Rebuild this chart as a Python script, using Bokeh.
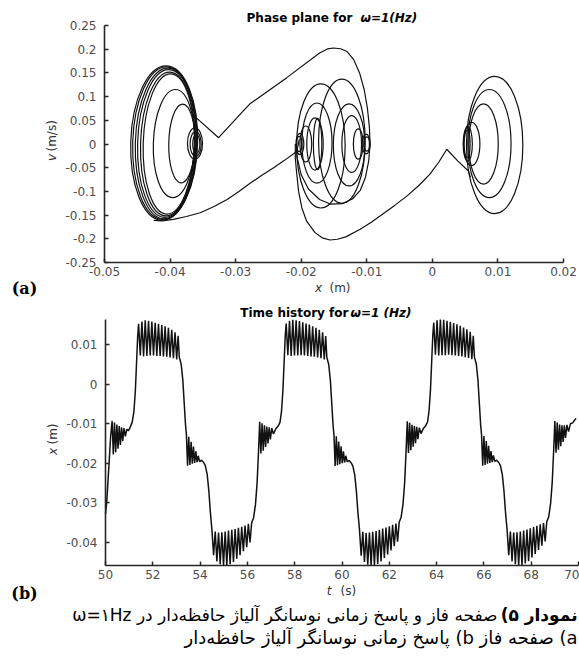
import numpy as np
from bokeh.plotting import figure
from bokeh.models import Range1d, FixedTicker, Label
from bokeh.layouts import column
from bokeh.embed import file_html
from bokeh.resources import INLINE

# ---------------- Phase plane data ----------------
# closed orbits (near-elliptic loops): centre x, centre v, width, height, tilt
ell_x = [-0.0409, -0.04085, -0.0406, -0.0405, -0.04035, -0.0402, -0.0394, -0.0382, -0.0362, -0.0361, -0.0360,
         -0.0138, -0.0170, -0.0176, -0.0179, -0.0175, -0.0193, -0.0202, -0.0203,
         -0.0127, -0.0123, -0.0113, -0.0101, -0.0100,
         0.0095, 0.0087, 0.0078, 0.0060, 0.0054, 0.0053]
ell_v = [0.002, 0.002, 0.001, 0.001, 0.0, 0.0, 0.001, 0.001, 0.001, 0.0, 0.0,
         0.006, -0.004, 0.002, 0.0, 0.0, 0.0, 0.0, 0.0,
         -0.002, 0.0, 0.0, 0.0, 0.0,
         -0.002, 0.001, 0.0, 0.0, 0.0, 0.0]
ell_w = [0.0102, 0.0097, 0.0094, 0.0089, 0.0083, 0.0078, 0.0063, 0.0040, 0.0023, 0.0017, 0.0011,
         0.0071, 0.0074, 0.0046, 0.0025, 0.0013, 0.0018, 0.0012, 0.0008,
         0.0048, 0.0030, 0.0015, 0.0012, 0.0008,
         0.0086, 0.0066, 0.0045, 0.0025, 0.0014, 0.0009]
ell_h = [0.326, 0.322, 0.318, 0.312, 0.304, 0.296, 0.228, 0.166, 0.066, 0.052, 0.040,
         0.262, 0.262, 0.169, 0.110, 0.108, 0.076, 0.045, 0.032,
         0.173, 0.120, 0.064, 0.042, 0.030,
         0.290, 0.228, 0.169, 0.091, 0.072, 0.058]
ell_a = [-0.03, -0.03, -0.03, -0.03, -0.03, -0.03, -0.03, -0.02, 0, 0, 0,
         0, 0, 0, 0, 0, 0, 0, 0,
         0, 0, 0, 0, 0,
         0, 0, 0, 0, 0, 0]

# open transition trajectories
tr1_x = [-0.0362, -0.0359, -0.0326, -0.0278, -0.0222, -0.0172, -0.0160, -0.0151, -0.0140, -0.0130, -0.0120,
         -0.0111, -0.0104, -0.0099, -0.0096, -0.0095, -0.0097, -0.0102, -0.0110, -0.0122, -0.0138, -0.0155,
         -0.0172, -0.0189, -0.0200, -0.0206, -0.0208]
tr1_v = [0.045, 0.054, 0.0133, 0.085, 0.140, 0.192, 0.2005, 0.2025, 0.2010, 0.195, 0.178,
         0.150, 0.115, 0.075, 0.035, 0.0, -0.035, -0.070, -0.098, -0.116, -0.126, -0.127,
         -0.117, -0.095, -0.065, -0.030, 0.0]
tr2_x = [-0.0425, -0.0412, -0.0395, -0.0375, -0.0354, -0.0333, -0.0313, -0.0295, -0.0278, -0.0260,
         -0.0242, -0.0225, -0.0209, -0.0205, -0.0203]
tr2_v = [-0.161, -0.162, -0.159, -0.153, -0.145, -0.132, -0.117, -0.100, -0.083, -0.066,
         -0.050, -0.034, -0.018, -0.005, 0.010]
tr3_x = [-0.0209, -0.0209, -0.0207, -0.0204, -0.0199, -0.0192, -0.0179, -0.0168, -0.0156, -0.0145, -0.0132,
         -0.0110, -0.0092, -0.0075, -0.0057, -0.0039, -0.0021, -0.0004, 0.0010, 0.0022, 0.0039, 0.0055, 0.0058]
tr3_v = [0.0, -0.030, -0.060, -0.100, -0.135, -0.162, -0.187, -0.198, -0.2025, -0.2010, -0.1960,
         -0.180, -0.164, -0.147, -0.129, -0.110, -0.088, -0.064, -0.038, -0.011, -0.036, -0.057, -0.070]

x_ticks = [-0.05, -0.04, -0.03, -0.02, -0.01, 0.0, 0.01, 0.02]
x_tick_labels = ["-0.05", "-0.04", "-0.03", "-0.02", "-0.01", "0", "0.01", "0.02"]
v_ticks = [-0.25, -0.2, -0.15, -0.1, -0.05, 0.0, 0.05, 0.1, 0.15, 0.2, 0.25]
v_tick_labels = ["-0.25", "-0.2", "-0.15", "-0.1", "-0.05", "0", "0.05", "0.1", "0.15", "0.2", "0.25"]
X_MIN, X_MAX, V_MIN, V_MAX = -0.05, 0.02, -0.25, 0.25

# ---------------- Time history data ----------------
hist_start = [(50.00, -0.0328), (50.05, -0.0300), (50.10, -0.0250), (50.16, -0.0190), (50.22, -0.0130), (50.28, -0.0093),
    (50.33, -0.0178), (50.38, -0.0097), (50.43, -0.0172), (50.48, -0.0102), (50.53, -0.0163), (50.58, -0.0106),
    (50.63, -0.0154), (50.68, -0.0109), (50.73, -0.0144), (50.78, -0.0111), (50.84, -0.0132), (50.90, -0.0114),
    (50.97, -0.0118), (51.05, -0.0108), (51.13, -0.0096)]
hist_cycle1 = [(51.20, -0.0070), (51.26, -0.0020), (51.31, 0.0050), (51.36, 0.0120), (51.40, 0.0152),
    (51.47, 0.0072), (51.54, 0.0158), (51.61, 0.0070), (51.68, 0.0161), (51.75, 0.0071), (51.82, 0.0160),
    (51.89, 0.0072), (51.96, 0.0158), (52.03, 0.0072), (52.10, 0.0155), (52.17, 0.0071), (52.24, 0.0152),
    (52.31, 0.0071), (52.38, 0.0149), (52.45, 0.0070), (52.52, 0.0146), (52.59, 0.0069), (52.66, 0.0142),
    (52.73, 0.0067), (52.80, 0.0137), (52.87, 0.0065), (52.94, 0.0131), (53.01, 0.0062), (53.07, 0.0122),
    (53.12, 0.0068), (53.20, 0.0050), (53.27, 0.0010), (53.33, -0.0050), (53.38, -0.0100), (53.42, -0.0128),
    (53.47, -0.0206), (53.52, -0.0133), (53.57, -0.0204), (53.62, -0.0146), (53.67, -0.0201), (53.72, -0.0158),
    (53.77, -0.0199), (53.82, -0.0170), (53.87, -0.0197), (53.92, -0.0181), (53.98, -0.0196), (54.06, -0.0192),
    (54.15, -0.0198), (54.22, -0.0206), (54.30, -0.0228), (54.37, -0.0270), (54.43, -0.0320), (54.50, -0.0368),
    (54.57, -0.0432), (54.64, -0.0372), (54.71, -0.0448), (54.78, -0.0375), (54.85, -0.0455), (54.92, -0.0374),
    (54.99, -0.0458), (55.06, -0.0372), (55.13, -0.0458), (55.20, -0.0370), (55.27, -0.0455), (55.34, -0.0368),
    (55.41, -0.0449), (55.48, -0.0366), (55.55, -0.0441), (55.62, -0.0363), (55.69, -0.0432), (55.76, -0.0360),
    (55.83, -0.0422), (55.90, -0.0357), (55.97, -0.0412), (56.04, -0.0353), (56.11, -0.0400), (56.18, -0.0350),
    (56.26, -0.0338), (56.34, -0.0305), (56.41, -0.0250), (56.47, -0.0170), (56.52, -0.0095),
    (56.57, -0.0175), (56.62, -0.0099), (56.67, -0.0168), (56.72, -0.0104), (56.77, -0.0159), (56.82, -0.0107),
    (56.87, -0.0150), (56.92, -0.0109), (56.97, -0.0140), (57.03, -0.0111), (57.10, -0.0126), (57.20, -0.0113),
    (57.30, -0.0106), (57.38, -0.0096)]
hist_cycle2 = [(57.44, -0.0070), (57.50, -0.0018), (57.55, 0.0052), (57.60, 0.0122), (57.64, 0.0153),
    (57.71, 0.0073), (57.78, 0.0160), (57.85, 0.0071), (57.92, 0.0162), (57.99, 0.0072), (58.06, 0.0161),
    (58.13, 0.0072), (58.20, 0.0159), (58.27, 0.0073), (58.34, 0.0156), (58.41, 0.0072), (58.48, 0.0153),
    (58.55, 0.0071), (58.62, 0.0150), (58.69, 0.0070), (58.76, 0.0146), (58.83, 0.0069), (58.90, 0.0142),
    (58.97, 0.0067), (59.04, 0.0137), (59.11, 0.0065), (59.18, 0.0131), (59.25, 0.0062), (59.31, 0.0121),
    (59.36, 0.0067), (59.44, 0.0049), (59.51, 0.0008), (59.57, -0.0052), (59.62, -0.0102), (59.66, -0.0128),
    (59.71, -0.0207), (59.76, -0.0132), (59.81, -0.0205), (59.86, -0.0145), (59.91, -0.0202), (59.96, -0.0157),
    (60.01, -0.0200), (60.06, -0.0170), (60.11, -0.0198), (60.16, -0.0181), (60.22, -0.0196), (60.30, -0.0193),
    (60.39, -0.0199), (60.46, -0.0207), (60.54, -0.0230), (60.61, -0.0272), (60.67, -0.0322), (60.74, -0.0368),
    (60.81, -0.0433), (60.88, -0.0373), (60.95, -0.0449), (61.02, -0.0376), (61.09, -0.0456), (61.16, -0.0375),
    (61.23, -0.0459), (61.30, -0.0373), (61.37, -0.0458), (61.44, -0.0371), (61.51, -0.0454), (61.58, -0.0368),
    (61.65, -0.0448), (61.72, -0.0365), (61.79, -0.0439), (61.86, -0.0362), (61.93, -0.0430), (62.00, -0.0359),
    (62.07, -0.0420), (62.14, -0.0355), (62.21, -0.0409), (62.28, -0.0352), (62.35, -0.0398), (62.42, -0.0348),
    (62.50, -0.0336), (62.58, -0.0303), (62.65, -0.0248), (62.71, -0.0168), (62.76, -0.0094),
    (62.81, -0.0174), (62.86, -0.0098), (62.91, -0.0167), (62.96, -0.0103), (63.01, -0.0158), (63.06, -0.0106),
    (63.11, -0.0149), (63.16, -0.0108), (63.21, -0.0139), (63.27, -0.0110), (63.34, -0.0125), (63.44, -0.0112),
    (63.54, -0.0105), (63.62, -0.0095)]
hist_cycle3 = [(63.68, -0.0068), (63.74, -0.0016), (63.79, 0.0054), (63.84, 0.0124), (63.88, 0.0155),
    (63.95, 0.0074), (64.02, 0.0161), (64.09, 0.0072), (64.16, 0.0163), (64.23, 0.0073), (64.30, 0.0162),
    (64.37, 0.0073), (64.44, 0.0160), (64.51, 0.0074), (64.58, 0.0157), (64.65, 0.0073), (64.72, 0.0154),
    (64.79, 0.0072), (64.86, 0.0151), (64.93, 0.0071), (65.00, 0.0147), (65.07, 0.0070), (65.14, 0.0143),
    (65.21, 0.0068), (65.28, 0.0138), (65.35, 0.0066), (65.42, 0.0132), (65.49, 0.0063), (65.55, 0.0122),
    (65.60, 0.0068), (65.68, 0.0050), (65.75, 0.0009), (65.81, -0.0051), (65.86, -0.0101), (65.90, -0.0127),
    (65.95, -0.0206), (66.00, -0.0131), (66.05, -0.0204), (66.10, -0.0144), (66.15, -0.0201), (66.20, -0.0156),
    (66.25, -0.0199), (66.30, -0.0169), (66.35, -0.0197), (66.40, -0.0180), (66.46, -0.0195), (66.54, -0.0192),
    (66.63, -0.0198), (66.70, -0.0206), (66.78, -0.0229), (66.85, -0.0271), (66.91, -0.0321), (66.98, -0.0367),
    (67.05, -0.0432), (67.12, -0.0372), (67.19, -0.0448), (67.26, -0.0375), (67.33, -0.0455), (67.40, -0.0374),
    (67.47, -0.0458), (67.54, -0.0372), (67.61, -0.0457), (67.68, -0.0370), (67.75, -0.0453), (67.82, -0.0367),
    (67.89, -0.0447), (67.96, -0.0364), (68.03, -0.0438), (68.10, -0.0361), (68.17, -0.0429), (68.24, -0.0358),
    (68.31, -0.0419), (68.38, -0.0354), (68.45, -0.0408), (68.52, -0.0351), (68.59, -0.0397), (68.66, -0.0347),
    (68.74, -0.0335), (68.82, -0.0302), (68.89, -0.0247), (68.95, -0.0167), (69.00, -0.0093),
    (69.05, -0.0173), (69.10, -0.0097), (69.15, -0.0166), (69.20, -0.0102), (69.25, -0.0157), (69.30, -0.0104),
    (69.35, -0.0146), (69.40, -0.0104), (69.45, -0.0136), (69.51, -0.0103), (69.58, -0.0120), (69.66, -0.0100),
    (69.75, -0.0098), (69.85, -0.0090), (69.90, -0.0087)]

t_ticks = [50, 52, 54, 56, 58, 60, 62, 64, 66, 68, 70]
t_tick_labels = ["50", "52", "54", "56", "58", "60", "62", "64", "66", "68", "70"]
xh_ticks = [-0.04, -0.03, -0.02, -0.01, 0.0, 0.01]
xh_tick_labels = ["-0.04", "-0.03", "-0.02", "-0.01", "0", "0.01"]
T_MIN, T_MAX, XH_MIN, XH_MAX = 50, 70, -0.0458, 0.0163

cap1_bold = "نمودار ۵)"
cap1_rest = "صفحه فاز و پاسخ زمانی نوسانگر آلیاژ حافظه‌دار در ω=۱Hz"
cap2 = "a) صفحه فاز b) پاسخ زمانی نوسانگر آلیاژ حافظه‌دار"

# ---------------- layout constants (page pixels; figures start at page 0,0) ----------------
W = 579
H1, H2 = 300, 359
TOP1, TOP2 = 0, H1
F1 = dict(l=104, r=563, t=25, b=262)          # axes box of top plot in page px
F2 = dict(l=105, r=578, t=319, b=565)         # axes box of bottom plot in page px
LINE = "#111111"
AX = "#262626"
TICKC = "#4d4d4d"
LABC = "#333333"


def make_conv(F, x0, x1, y0, y1):
    sx = (x1 - x0) / (F["r"] - F["l"])
    sy = (y1 - y0) / (F["b"] - F["t"])

    def conv(px, py):
        return x0 + (px - F["l"]) * sx, y1 - (py - F["t"]) * sy
    return conv


conv1 = make_conv(F1, X_MIN, X_MAX, V_MIN, V_MAX)
conv2 = make_conv(F2, T_MIN, T_MAX, XH_MIN, XH_MAX)


def make_fig(conv, top, h):
    # the frame fills the whole canvas; axes are pinned to the data box
    xa, ya = conv(0, top + h)
    xb, yb = conv(W, top)
    p = figure(width=W, height=h, output_backend="svg", toolbar_location=None,
               x_range=Range1d(xa, xb), y_range=Range1d(ya, yb))
    p.min_border = 0
    return p


def style(p, xt, xl, yt, yl, xb, yb):
    p.xaxis.ticker = FixedTicker(ticks=xt)
    p.yaxis.ticker = FixedTicker(ticks=yt)
    p.xaxis.major_label_overrides = dict(zip(xt, xl))
    p.yaxis.major_label_overrides = dict(zip(yt, yl))
    p.xaxis.bounds = xb
    p.yaxis.bounds = yb
    p.xaxis.fixed_location = yb[0]
    p.yaxis.fixed_location = xb[0]
    for ax in (p.xaxis[0], p.yaxis[0]):
        ax.axis_line_color = AX
        ax.axis_line_width = 1.6
        ax.major_tick_in = 4
        ax.major_tick_out = 0
        ax.major_tick_line_color = AX
        ax.major_tick_line_width = 1.5
        ax.minor_tick_line_color = None
        ax.major_label_text_font = "DejaVu Sans"
        ax.major_label_text_font_size = "12px"
        ax.major_label_text_color = TICKC
    p.xaxis.major_label_standoff = 4
    p.yaxis.major_label_standoff = 8
    p.xgrid.visible = False
    p.ygrid.visible = False
    p.outline_line_color = None
    p.background_fill_color = "white"
    p.border_fill_color = "white"


def lab(p, conv, px, py, text, **kw):
    x, y = conv(px, py)
    p.add_layout(Label(x=x, y=y, text=text, **kw))


TFONT = "DejaVu Sans"

# ---------------- top: phase plane ----------------
p1 = make_fig(conv1, TOP1, H1)
style(p1, x_ticks, x_tick_labels, v_ticks, v_tick_labels, (X_MIN, X_MAX), (V_MIN, V_MAX))
p1.ellipse(x=ell_x, y=ell_v, width=ell_w, height=ell_h, angle=ell_a,
           fill_color=None, line_color=LINE, line_width=1.2)
p1.multi_line(xs=[tr1_x, tr2_x, tr3_x], ys=[tr1_v, tr2_v, tr3_v], line_color=LINE, line_width=1.2)

lab(p1, conv1, 352, 17, "Phase plane for", text_font=TFONT, text_font_size="12px",
    text_font_style="bold", text_align="right", text_baseline="middle", text_color="black")
lab(p1, conv1, 360, 17, "ω=1(Hz)", text_font=TFONT, text_font_size="12px",
    text_font_style="bold italic", text_align="left", text_baseline="middle", text_color="black")
lab(p1, conv1, 318, 287, "x", text_font=TFONT, text_font_size="12px", text_font_style="italic",
    text_align="center", text_baseline="middle", text_color=LABC)
lab(p1, conv1, 329, 287, "(m)", text_font=TFONT, text_font_size="12px",
    text_align="left", text_baseline="middle", text_color=LABC)
lab(p1, conv1, 51, 157, "v", text_font=TFONT, text_font_size="12px", text_font_style="italic",
    text_align="center", text_baseline="middle", angle=np.pi / 2, text_color=LABC)
lab(p1, conv1, 51, 151, "(m/s)", text_font=TFONT, text_font_size="12px",
    text_align="left", text_baseline="middle", angle=np.pi / 2, text_color=LABC)
lab(p1, conv1, 24, 288, "(a)", text_font="DejaVu Serif", text_font_size="16px", text_font_style="bold",
    text_align="center", text_baseline="middle", text_color="black")

# ---------------- bottom: time history ----------------
hist = hist_start + hist_cycle1 + hist_cycle2 + hist_cycle3
t_hist = [q[0] for q in hist]
x_hist = [q[1] for q in hist]

p2 = make_fig(conv2, TOP2, H2)
style(p2, t_ticks, t_tick_labels, xh_ticks, xh_tick_labels, (T_MIN, T_MAX), (XH_MIN, XH_MAX))
p2.line(t_hist, x_hist, line_color=LINE, line_width=1.5)

lab(p2, conv2, 348, 312, "Time history for", text_font=TFONT, text_font_size="12px",
    text_font_style="bold", text_align="right", text_baseline="middle", text_color="black")
lab(p2, conv2, 350, 312, "ω=1 (Hz)", text_font=TFONT, text_font_size="12px",
    text_font_style="bold italic", text_align="left", text_baseline="middle", text_color="black")
lab(p2, conv2, 328.5, 590, "t", text_font=TFONT, text_font_size="12px", text_font_style="italic",
    text_align="center", text_baseline="middle", text_color=LABC)
lab(p2, conv2, 340, 590, "(s)", text_font=TFONT, text_font_size="12px",
    text_align="left", text_baseline="middle", text_color=LABC)
lab(p2, conv2, 52, 451, "x", text_font=TFONT, text_font_size="12px", text_font_style="italic",
    text_align="center", text_baseline="middle", angle=np.pi / 2, text_color=LABC)
lab(p2, conv2, 52, 444, "(m)", text_font=TFONT, text_font_size="12px",
    text_align="left", text_baseline="middle", angle=np.pi / 2, text_color=LABC)
lab(p2, conv2, 24, 593, "(b)", text_font="DejaVu Serif", text_font_size="16px", text_font_style="bold",
    text_align="center", text_baseline="middle", text_color="black")

RLE, PDF = "\u202b", "\u202c"
lab(p2, conv2, 577, 614, RLE + cap1_bold + PDF, text_font="DejaVu Sans", text_font_size="17px",
    text_font_style="bold", text_align="right", text_baseline="middle", text_color="black")
lab(p2, conv2, 497, 614, RLE + cap1_rest + PDF, text_font="DejaVu Sans", text_font_size="17px",
    text_align="right", text_baseline="middle", text_color="black")
lab(p2, conv2, 577, 637, RLE + cap2 + PDF, text_font="DejaVu Sans", text_font_size="18px",
    text_align="right", text_baseline="middle", text_color="black")

layout = column(p1, p2, spacing=0)
open("out.html", "w").write(file_html(layout, INLINE))
